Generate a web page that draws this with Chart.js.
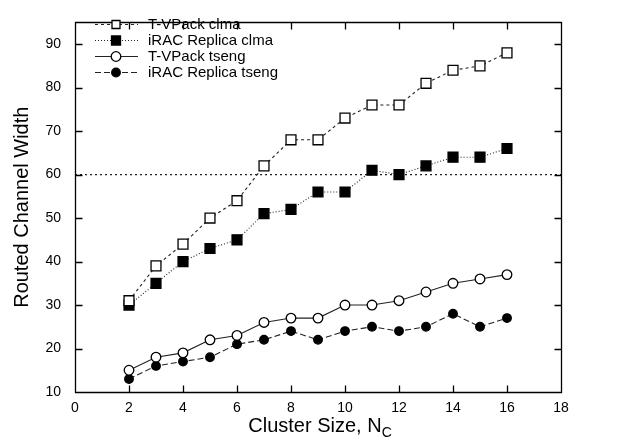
<!DOCTYPE html>
<html><head><meta charset="utf-8">
<script src="https://cdn.jsdelivr.net/npm/chart.js@4"></script>
<style>html,body{margin:0;padding:0;background:#fff}#wrap{width:642px;height:443px}</style>
</head><body><div id="wrap"><canvas id="c" width="642" height="443"></canvas></div>
<script>
const clusterSizes = [2,3,4,5,6,7,8,9,10,11,12,13,14,15,16];
const tvpackClma   = [31,39,44,50,54,62,68,68,73,76,76,81,84,85,88];
const iracClma     = [30,35,40,43,45,51,52,56,56,61,60,62,64,64,66];
const tvpackTseng  = [15,18,19,22,23,26,27,27,30,30,31,33,35,36,37];
const iracTseng    = [13,16,17,18,21,22,24,22,24,25,24,25,28,25,27];
const referenceLine = 60;
const xTickValues = [0,2,4,6,8,10,12,14,16,18];
const yTickValues = [10,20,30,40,50,60,70,80,90];
const seriesNames = ['T-VPack clma','iRAC Replica clma','T-VPack tseng','iRAC Replica tseng'];
const xTitle = 'Cluster Size, N';
const xTitleSub = 'C';
const yTitle = 'Routed Channel Width';

const FONT = '"Liberation Sans", Arial, Helvetica, sans-serif';
const pts = arr => arr.map((v,i)=>({x:clusterSizes[i], y:v}));

const styles = [
  {dash:[3,3], point:'rect', fill:'#fff', r:7, lr:4},
  {dash:[1,2], point:'rect', fill:'#000', r:7, lr:4.5},
  {dash:[], point:'circle', fill:'#fff', r:4.8, lr:4.8},
  {dash:[6,3], point:'circle', fill:'#000', r:4.3, lr:4.3}
];
const values = [tvpackClma, iracClma, tvpackTseng, iracTseng];

const datasets = values.map((v,i)=>({
  label: seriesNames[i],
  data: pts(v),
  borderColor: '#222',
  borderWidth: 1.1,
  borderDash: styles[i].dash,
  pointStyle: styles[i].point,
  pointRadius: styles[i].r,
  pointBackgroundColor: styles[i].fill,
  pointBorderColor: '#000',
  pointBorderWidth: 1.3,
  showLine: true,
  tension: 0,
  order: 1
}));
datasets.unshift({
  label: 'ref',
  data: [{x:0,y:referenceLine},{x:18,y:referenceLine}],
  borderColor: '#222',
  borderWidth: 1.1,
  borderDash: [2,3],
  pointRadius: 0,
  showLine: true,
  order: 5
});

const decor = {
  id: 'decor',
  afterDraw(chart) {
    const ctx = chart.ctx, a = chart.chartArea, xs = chart.scales.x, ys = chart.scales.y;
    ctx.save();
    ctx.strokeStyle = '#000'; ctx.lineWidth = 1.3; ctx.setLineDash([]);
    const L = Math.round(a.left) + 0.5, R = Math.round(a.right) + 0.5;
    const T = Math.round(a.top) + 0.5, B = Math.round(a.bottom) + 0.5;
    ctx.beginPath();
    ctx.moveTo(L, T); ctx.lineTo(R, T); ctx.lineTo(R, B); ctx.lineTo(L, B); ctx.closePath();
    const tl = 7;
    xTickValues.forEach(v => {
      const px = Math.round(xs.getPixelForValue(v)) + 0.5;
      ctx.moveTo(px, B); ctx.lineTo(px, B - tl);
      ctx.moveTo(px, T); ctx.lineTo(px, T + tl);
    });
    yTickValues.forEach(v => {
      const py = Math.round(ys.getPixelForValue(v)) + 0.5;
      ctx.moveTo(L, py); ctx.lineTo(L + tl, py);
      ctx.moveTo(R, py); ctx.lineTo(R - tl, py);
    });
    ctx.stroke();

    // axis titles
    ctx.fillStyle = '#000';
    ctx.font = '20px ' + FONT;
    ctx.textBaseline = 'middle';
    const cx = (a.left + a.right) / 2;
    const mainW = ctx.measureText(xTitle).width;
    ctx.font = '14px ' + FONT;
    const subW = ctx.measureText(xTitleSub).width;
    const start = cx - (mainW + subW) / 2 + 2;
    ctx.font = '20px ' + FONT;
    ctx.textAlign = 'left';
    ctx.fillText(xTitle, start, 426);
    ctx.font = '14px ' + FONT;
    ctx.fillText(xTitleSub, start + mainW, 433);

    ctx.save();
    ctx.translate(22, (a.top + a.bottom) / 2);
    ctx.rotate(-Math.PI / 2);
    ctx.font = '20px ' + FONT;
    ctx.textAlign = 'center';
    ctx.fillText(yTitle, 0, 0);
    ctx.restore();

    // legend
    const lx0 = 95, lx1 = 138, mx = 116, tx = 148;
    const rows = [24, 40, 56, 72];
    ctx.font = '15px ' + FONT;
    ctx.textAlign = 'left';
    rows.forEach((ry, i) => {
      const s = styles[i];
      ctx.strokeStyle = '#222'; ctx.lineWidth = 1.1; ctx.setLineDash(s.dash);
      ctx.beginPath(); ctx.moveTo(lx0, ry + 0.5); ctx.lineTo(lx1, ry + 0.5); ctx.stroke();
      ctx.setLineDash([]);
      ctx.fillStyle = s.fill; ctx.strokeStyle = '#000'; ctx.lineWidth = 1.3;
      ctx.beginPath();
      if (s.point === 'rect') {
        ctx.rect(mx - s.lr, ry + 0.5 - s.lr, 2*s.lr, 2*s.lr);
      } else {
        ctx.arc(mx, ry + 0.5, s.lr, 0, Math.PI * 2);
      }
      ctx.fill(); ctx.stroke();
      ctx.fillStyle = '#000';
      ctx.fillText(seriesNames[i], tx, ry + 1);
    });
    ctx.restore();
  }
};

new Chart(document.getElementById('c'), {
  type: 'scatter',
  data: { datasets },
  plugins: [decor],
  options: {
    responsive: false,
    animation: false,
    layout: { padding: { top: 10, right: 81, left: 0, bottom: 0 } },
    plugins: { legend: { display: false }, tooltip: { enabled: false } },
    scales: {
      x: {
        type: 'linear', min: 0, max: 18,
        afterBuildTicks: s => { s.ticks = xTickValues.map(v => ({value: v})); },
        afterFit: s => { s.height = 51; },
        grid: { display: false, drawTicks: false },
        border: { display: false },
        ticks: { color: '#000', font: { family: FONT, size: 14 }, padding: 8, maxRotation: 0, autoSkip: false }
      },
      y: {
        type: 'linear', min: 10, max: 95,
        afterBuildTicks: s => { s.ticks = yTickValues.map(v => ({value: v})); },
        afterFit: s => { s.width = 75; },
        grid: { display: false, drawTicks: false },
        border: { display: false },
        ticks: { color: '#000', font: { family: FONT, size: 14 }, padding: 14, autoSkip: false }
      }
    }
  }
});
</script>
</body></html>
